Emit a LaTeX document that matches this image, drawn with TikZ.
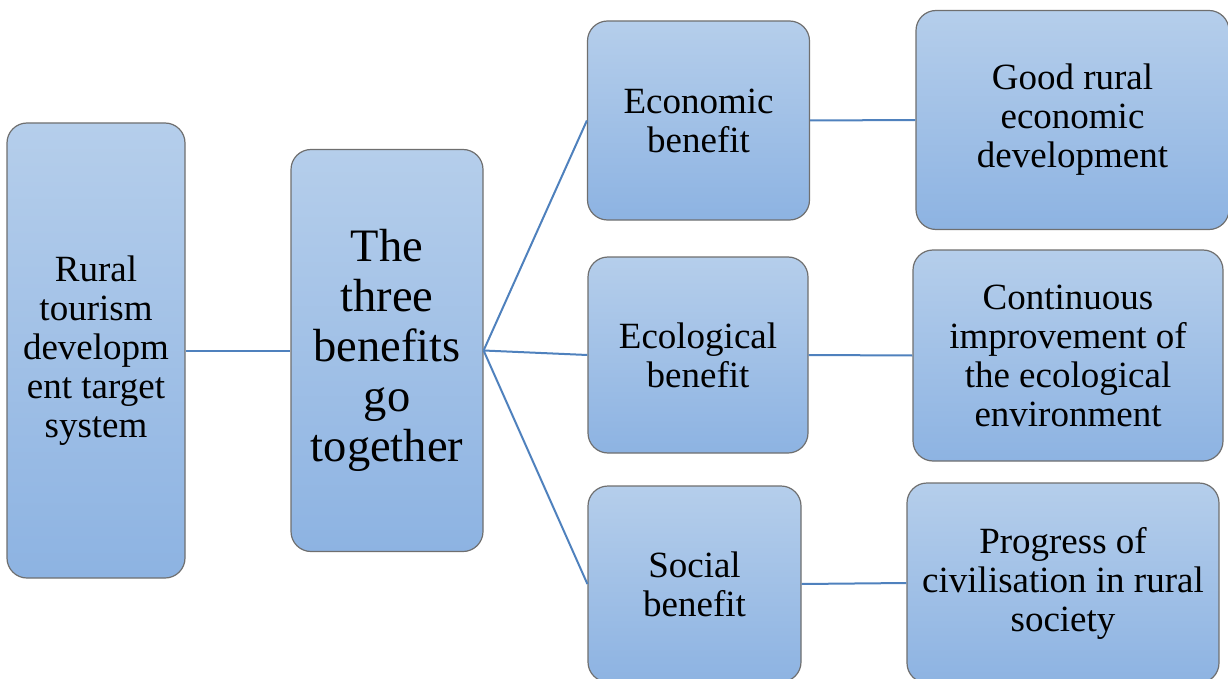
\documentclass[tikz,border=0pt]{standalone}
\usepackage{fontspec}
\setmainfont{Liberation Serif}
\definecolor{boxtop}{HTML}{B5CEEB}
\definecolor{boxbot}{HTML}{8DB3E2}
\definecolor{boxline}{HTML}{6F6F6F}
\definecolor{conn}{HTML}{4F81BD}
\tikzset{
  bbox/.style={draw=boxline, line width=1.2pt, rounded corners=20pt,
    top color=boxtop, bottom color=boxbot, inner sep=0pt, align=center,
    font=\fontsize{37}{39}\selectfont},
  bigtext/.style={font=\fontsize{46.5}{50}\selectfont},
  link/.style={draw=conn, line width=2pt}
}
\begin{document}
\begin{tikzpicture}[x=1pt,y=-1pt]
\useasboundingbox (0,0) rectangle (1228,679);
\clip (0,0) rectangle (1228,679);
\node[bbox, minimum width=178pt, minimum height=455pt] (b1) at (96,350.5)
  {Rural\\tourism\\developm\\ent target\\system};
\node[bbox, bigtext, minimum width=192pt, minimum height=402pt] (b2) at (387,350.5)
  {The\\three\\benefits\\go\\together};
\node[bbox, minimum width=222pt, minimum height=199pt] (b3) at (698.5,120.5)
  {Economic\\benefit};
\node[bbox, minimum width=220pt, minimum height=196pt] (b4) at (698,355)
  {Ecological\\benefit};
\node[bbox, minimum width=213pt, minimum height=196pt] (b5) at (694.5,584)
  {Social\\benefit};
\node[bbox, minimum width=313pt, minimum height=219pt] (b6) at (1072.5,120)
  {Good rural\\economic\\development};
\node[bbox, minimum width=310pt, minimum height=211pt] (b7) at (1068,355.5)
  {Continuous\\improvement of\\the ecological\\environment};
\node[bbox, minimum width=312pt, minimum height=200pt] (b8) at (1063,583)
  {Progress of\\civilisation in rural\\society};
\draw[link] (b1.east) -- (b2.west);
\draw[link] (b2.east) -- (b3.west);
\draw[link] (b2.east) -- (b4.west);
\draw[link] (b2.east) -- (b5.west);
\draw[link] (b3.east) -- (b6.west);
\draw[link] (b4.east) -- (b7.west);
\draw[link] (b5.east) -- (b8.west);
\end{tikzpicture}
\end{document}
